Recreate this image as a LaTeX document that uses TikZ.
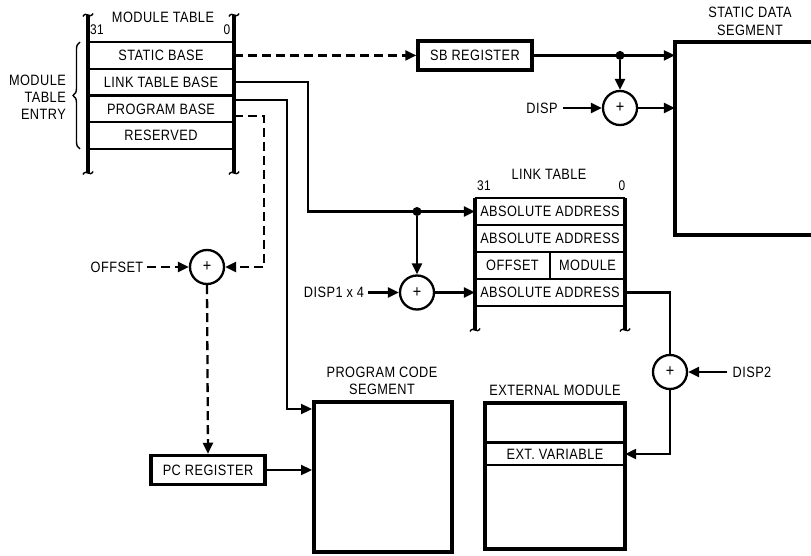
\documentclass[tikz,border=0pt]{standalone}
\usepackage{fontspec}
\setmainfont{Liberation Sans}[FakeStretch=0.85, LetterSpace=3]
\usetikzlibrary{arrows.meta,decorations.pathreplacing,calc}
\tikzset{squig/.pic={\draw[line width=1.4pt] (-5,1.5) .. controls (-2,-4.5) and (2,4.5) .. (5,-1.5);}}
\begin{document}
\begin{tikzpicture}[x=1pt,y=-1pt,
  txt/.style={font=\fontsize{15}{17}\selectfont, inner sep=0pt},
  small/.style={font=\fontsize{14}{16}\selectfont, inner sep=0pt},
  mcell/.style={txt, minimum width=146pt, minimum height=26.75pt},
  lcell/.style={txt, minimum width=150pt, minimum height=27pt},
  reg/.style={txt, draw, line width=3.5pt, minimum width=114pt, minimum height=29pt},
  seg/.style={draw, line width=4pt, inner sep=0pt},
  sum/.style={circle, draw, line width=2.3pt, minimum size=34pt, inner sep=0pt, font=\fontsize{17}{17}\selectfont},
  dotn/.style={circle, fill, minimum size=9pt, inner sep=0pt},
  wire/.style={line width=2.3pt},
  arr/.style={wire, -{Triangle[length=11pt,width=10pt]}},
  dsh/.style={dash pattern=on 9pt off 5pt},
  vbar/.style={line width=3.2pt},
  hbar/.style={line width=2.3pt}
]
\path[use as bounding box] (0,0) rectangle (811,556);

% ---------- module table ----------
\node[txt] (mtt) at (163,17) {MODULE TABLE};
\node[small] (m31) at (97,30) {31};
\node[small] (m0) at (227,30) {0};
\node[mcell] (mt1) at (161,55.4) {STATIC BASE};
\node[mcell] (mt2) at (161,82.1) {LINK TABLE BASE};
\node[mcell] (mt3) at (161,108.9) {PROGRAM BASE};
\node[mcell] (mt4) at (161,135.6) {RESERVED};
\foreach \y in {42,68.75,95.5,122.25,149} \draw[hbar] (88,\y) -- (234,\y);
\draw[vbar] (88,15) -- (88,173);
\draw[vbar] (234,15) -- (234,173);
\pic at (88,15) {squig};
\pic at (234,15) {squig};
\pic at (88,173) {squig};
\pic at (234,173) {squig};
\draw[line width=1.4pt, decorate, decoration={brace, amplitude=7pt}] (80,149) -- (80,42);
\node[txt, align=right, anchor=east] (mte) at (66,97) {MODULE\\TABLE\\ENTRY};

% ---------- SB register and static data ----------
\node[reg] (sb) at (475,55.4) {SB REGISTER};
\node[minimum width=136pt, minimum height=193pt, inner sep=0pt] (sds) at (743,138.5) {};
\draw[line width=4pt] (sds.north east) -- (sds.north west) -- (sds.south west) -- (sds.south east);
\node[txt, align=center, font=\fontsize{15}{18}\selectfont] (sdl) at (750,21.5) {STATIC DATA\\SEGMENT};
\node[dotn] (d1) at (620,55.4) {};
\node[sum] (p3) at (620,108) {+};
\node[txt] (disp) at (542,108) {DISP};

\draw[arr, dsh] (mt1.east) -- (sb.west);
\draw[arr] (sb.east) -- (sds.west |- sb.east);
\draw[arr] (d1) -- (p3.north);
\draw[arr] ([xshift=5pt]disp.east) -- (p3.west);
\draw[arr] (p3.east) -- (sds.west |- p3.east);

% ---------- link table ----------
\node[txt] (ltt) at (549,174) {LINK TABLE};
\node[small] (l31) at (484,186) {31};
\node[small] (l0) at (622,186) {0};
\node[lcell] (lt1) at (550,211.5) {ABSOLUTE ADDRESS};
\node[lcell] (lt2) at (550,238.5) {ABSOLUTE ADDRESS};
\node[lcell, minimum width=75pt] (lt3a) at (512.5,265.5) {OFFSET};
\node[lcell, minimum width=75pt] (lt3b) at (587.5,265.5) {MODULE};
\node[lcell] (lt4) at (550,292.5) {ABSOLUTE ADDRESS};
\foreach \y in {198,225,252,279,306} \draw[hbar] (475,\y) -- (625,\y);
\draw[hbar] (lt3a.north east) -- (lt3a.south east);
\draw[vbar] (475,198) -- (475,330);
\draw[vbar] (625,198) -- (625,330);
\pic at (475,330) {squig};
\pic at (625,330) {squig};

\draw[arr] (mt2.east) -- ++(74,0) |- (lt1.west);
\node[dotn] (d2) at (417,211.5) {};
\node[sum] (p2) at (417,292.5) {+};
\node[txt] (d1x4) at (334,292.5) {DISP1 x 4};
\draw[arr] (d2) -- (p2.north);
\draw[arr] ([xshift=4pt]d1x4.east) -- (p2.west);
\draw[arr] (p2.east) -- (lt4.west);

% ---------- program base paths ----------
\node[seg, minimum width=138pt, minimum height=150pt] (pcs) at (383,477) {};
\node[txt, align=center, font=\fontsize{15}{17}\selectfont] (pcl) at (382,380.5) {PROGRAM CODE\\SEGMENT};
\draw[arr] ([yshift=9pt]mt3.east) -- ++(53,0) |- ([yshift=-9pt]pcs.north west);

\node[sum] (p1) at (207,267) {+};
\node[txt] (off) at (117,267) {OFFSET};
\node[reg] (pc) at (208,470) {PC REGISTER};
\draw[arr, dsh] ([yshift=-7pt]mt3.east) -- ++(30,0) |- (p1.east);
\draw[arr, dsh] ([xshift=4pt]off.east) -- (p1.west);
\draw[arr, dsh] (p1.south) -- (pc.north);
\draw[arr] (pc.east) -- (pcs.west |- pc.east);

% ---------- external module ----------
\node[seg, minimum width=140pt, minimum height=146pt] (ext) at (555,476) {};
\node[txt] (eml) at (555,390) {EXTERNAL MODULE};
\node[txt, minimum width=140pt, minimum height=22pt] (ev) at (555,454) {EXT. VARIABLE};
\draw[line width=3pt] (ev.north west) -- (ev.north east);
\draw[line width=2.5pt] (ev.south west) -- (ev.south east);

\node[sum] (p4) at (670,372) {+};
\node[txt] (d2l) at (752,372) {DISP2};
\draw[wire] (lt4.east) -| (p4.north);
\draw[arr] ([xshift=-5pt]d2l.west) -- (p4.east);
\draw[arr] (p4.south) |- (ev.east);
\end{tikzpicture}
\end{document}
